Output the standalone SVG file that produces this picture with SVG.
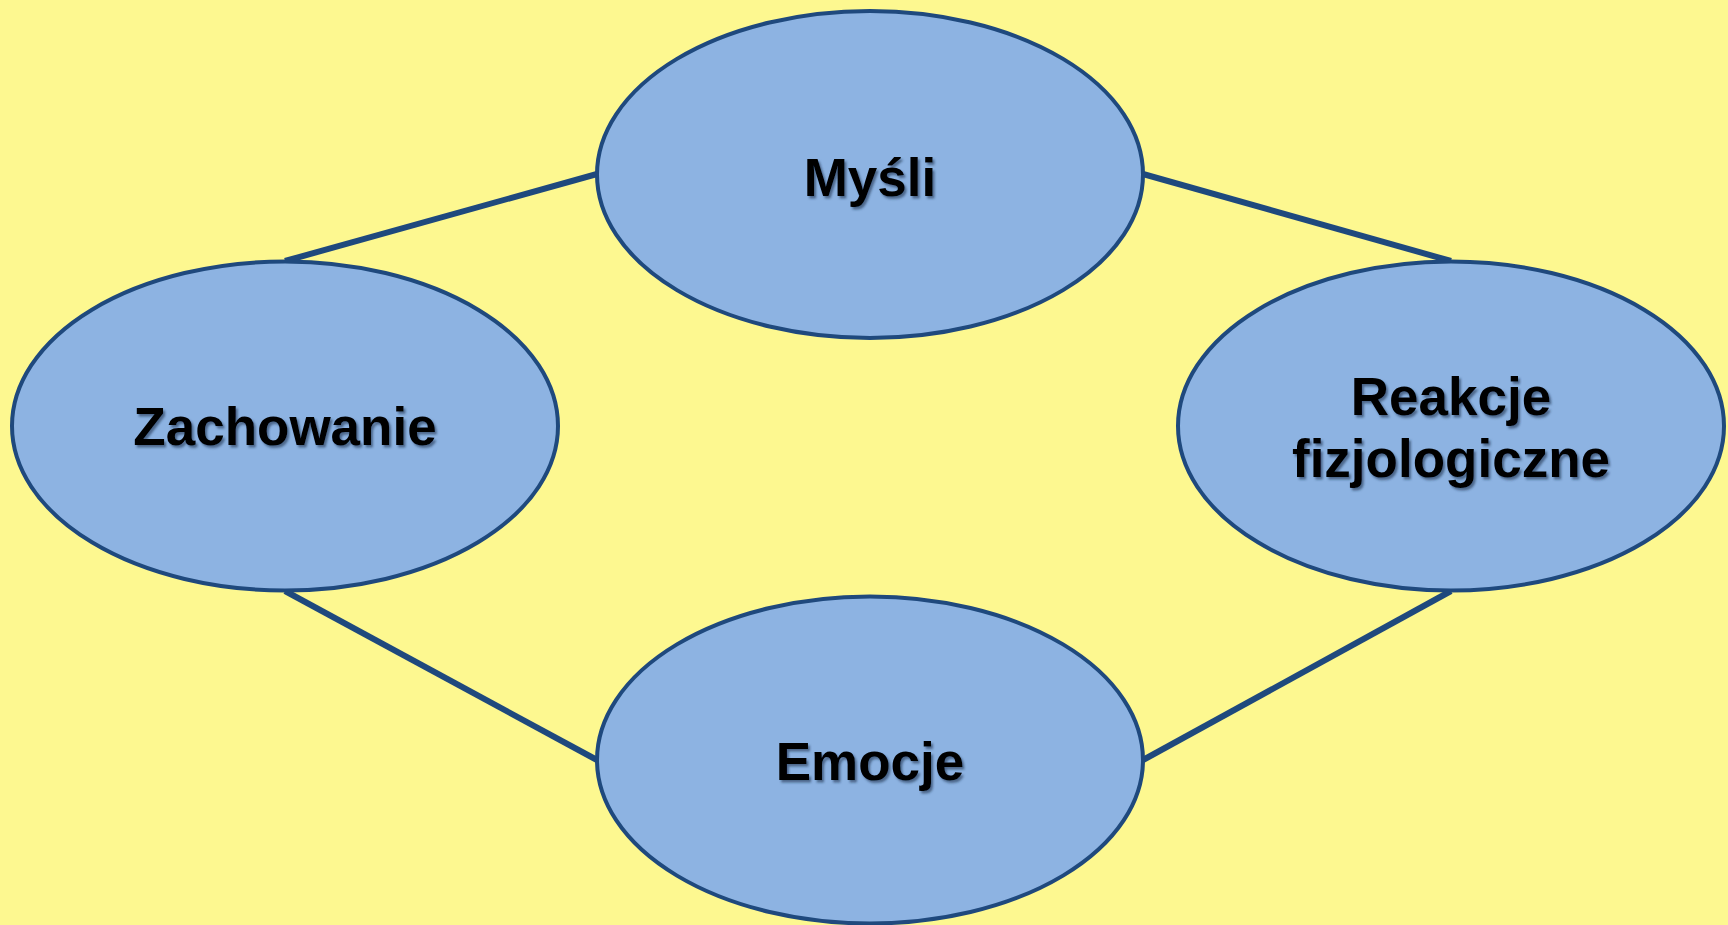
<svg xmlns="http://www.w3.org/2000/svg" width="1728" height="925" viewBox="0 0 1728 925">
<defs>
<filter id="sh" x="-10%" y="-20%" width="130%" height="160%">
<feDropShadow dx="2" dy="2.5" stdDeviation="1.2" flood-color="#1f3050" flood-opacity="0.6"/>
</filter>
</defs>
<style>
.node{fill:#8db3e2;stroke:#1f497d;stroke-width:4}
.lbl{font-family:"Liberation Sans",Arial,sans-serif;font-weight:bold;font-size:53px;fill:#000;text-anchor:middle;filter:url(#sh)}
.conn{stroke:#1f497d;stroke-width:6;fill:none;stroke-linecap:butt}
</style>
<rect width="1728" height="925" fill="#fdf890"/>
<g id="connectors">
<line class="conn" x1="285" y1="261" x2="597" y2="174"/>
<line class="conn" x1="1143" y1="174" x2="1451" y2="261"/>
<line class="conn" x1="285" y1="591" x2="597" y2="760"/>
<line class="conn" x1="1451" y1="591" x2="1143" y2="760"/>
</g>
<g id="mysli">
<ellipse class="node" cx="870" cy="174.5" rx="273" ry="163.5"/>
<text class="lbl" x="870" y="196">Myśli</text>
</g>
<g id="zachowanie">
<ellipse class="node" cx="285" cy="426" rx="273" ry="164.5"/>
<text class="lbl" x="285" y="445">Zachowanie</text>
</g>
<g id="reakcje">
<ellipse class="node" cx="1451" cy="426" rx="273" ry="164.5"/>
<text class="lbl" x="1451" y="415">Reakcje</text>
<text class="lbl" x="1451" y="477">fizjologiczne</text>
</g>
<g id="emocje">
<ellipse class="node" cx="870" cy="760" rx="273" ry="163.5"/>
<text class="lbl" x="870" y="780">Emocje</text>
</g>
</svg>
